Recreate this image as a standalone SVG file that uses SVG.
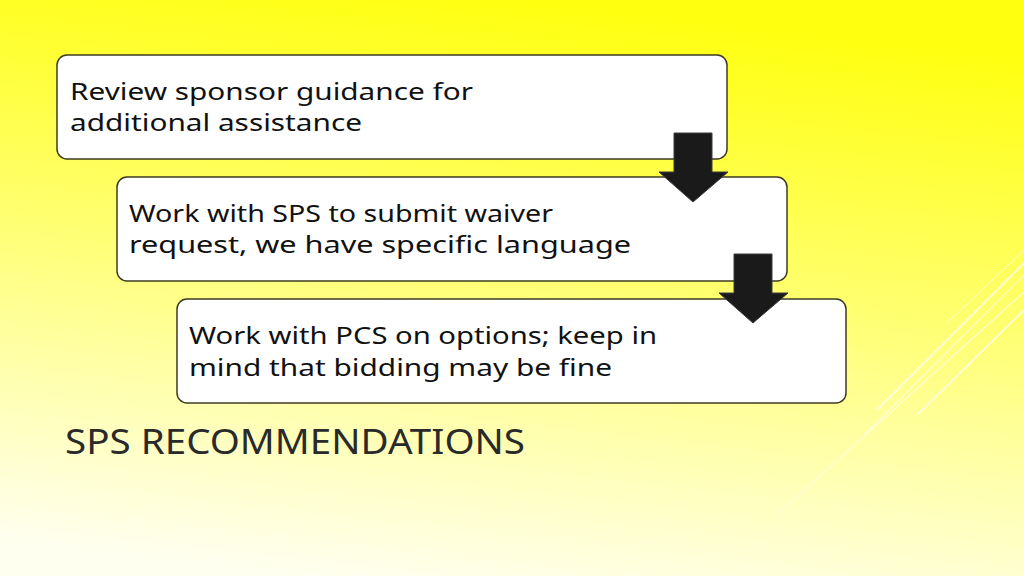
<svg xmlns="http://www.w3.org/2000/svg" width="1024" height="576" viewBox="0 0 1024 576">
<defs>
<linearGradient id="bg" x1="0.3" y1="1" x2="0.5" y2="0">
<stop offset="0" stop-color="#fffff0"/>
<stop offset="0.55" stop-color="#ffff70"/>
<stop offset="1" stop-color="#ffff10"/>
</linearGradient>
<style>
.box{fill:#fff;stroke:#3c3c22;stroke-width:1.5}
.t{font-family:"Noto Sans","DejaVu Sans",sans-serif;font-size:24px;fill:#111}
.arr{fill:#1a1a1a;stroke:#3a3a3a;stroke-width:1}
.ln{stroke:#fffde0;fill:none}
</style>
</defs>
<rect width="1024" height="576" fill="url(#bg)"/>
<g opacity="0.85">
<line class="ln" x1="877" y1="410" x2="1024" y2="263" stroke-width="2"/>
<line class="ln" x1="947" y1="323" x2="1024" y2="250" stroke-width="1"/>
<line class="ln" x1="864" y1="435" x2="1024" y2="275" stroke-width="1.2"/>
<line class="ln" x1="917" y1="415" x2="1024" y2="310" stroke-width="2"/>
<line class="ln" x1="775" y1="517" x2="1024" y2="292" stroke-width="1.2"/>
</g>
<g id="node1"><rect class="box" x="57" y="55" width="670" height="104" rx="10"/>
<text class="t" x="70" y="100" textLength="403" lengthAdjust="spacingAndGlyphs">Review sponsor guidance for</text><text class="t" x="70" y="131" textLength="292" lengthAdjust="spacingAndGlyphs">additional assistance</text></g>
<g id="node2"><rect class="box" x="117" y="177" width="670" height="104" rx="10"/>
<text class="t" x="129" y="222" textLength="424" lengthAdjust="spacingAndGlyphs">Work with SPS to submit waiver</text><text class="t" x="129" y="253" textLength="502" lengthAdjust="spacingAndGlyphs">request, we have specific language</text></g>
<g id="node3"><rect class="box" x="177" y="299" width="669" height="104" rx="10"/>
<text class="t" x="189" y="344" textLength="468" lengthAdjust="spacingAndGlyphs">Work with PCS on options; keep in</text><text class="t" x="189" y="376" textLength="423" lengthAdjust="spacingAndGlyphs">mind that bidding may be fine</text></g>
<g id="connectors">
<path class="arr" d="M674,133 H712 V172 H728 L693,202 L659,172 H674 Z"/>
<path class="arr" d="M734,254 H772 V293 H788 L753,323 L719,293 H734 Z"/>
</g>
<text x="65" y="454" font-family="'Noto Sans','DejaVu Sans',sans-serif" font-size="34" fill="#2a2a2a" textLength="460" lengthAdjust="spacingAndGlyphs">SPS RECOMMENDATIONS</text>
</svg>
